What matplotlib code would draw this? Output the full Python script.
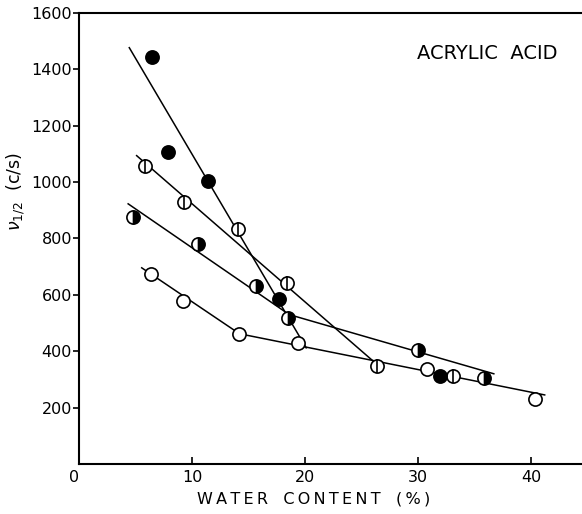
import matplotlib
matplotlib.use("Agg")
import matplotlib.pyplot as plt

# filled circles
filled_x = [6.5, 7.9, 11.4, 17.7, 31.9]
filled_y = [1445, 1108, 1005, 586, 312]
# circles with a vertical bar
barred_x = [5.8, 9.3, 14.1, 18.4, 26.4, 33.1]
barred_y = [1058, 930, 834, 642, 348, 312]
# circles half filled (right half)
half_x = [4.8, 10.5, 15.7, 18.5, 30.0, 35.8]
half_y = [877, 781, 632, 518, 405, 305]
# open circles
open_x = [6.4, 9.2, 14.2, 19.4, 30.8, 40.3]
open_y = [675, 579, 462, 430, 337, 231]

# drawn straight lines (x pairs, y pairs)
fit_lines = [
    ([4.45, 20.1], [1477, 412]),
    ([5.1, 26.4], [1094, 352]),
    ([4.35, 18.6], [923, 530]),
    ([18.6, 36.7], [530, 320]),
    ([5.55, 14.2], [696, 462]),
    ([14.2, 41.2], [462, 245]),
]


def spaced(s):
    # wide letter spacing like the original lettering
    return "\u2009".join(s)


fig = plt.figure(figsize=(5.82, 5.14), dpi=100)
ax = fig.add_axes([0.1357, 0.0973, 0.8643, 0.8774])

for xs, ys in fit_lines:
    ax.plot(xs, ys, "k-", lw=1.1, zorder=2)

ms = 9.5
mew = 1.2
ax.plot(open_x, open_y, "o", ms=ms, mfc="white", mec="black", mew=mew, ls="none", zorder=3)
ax.plot(barred_x, barred_y, "o", ms=ms, mfc="white", mec="black", mew=mew, ls="none", zorder=3)
ax.plot(barred_x, barred_y, "|", ms=ms, mec="black", mew=mew, ls="none", zorder=4)
ax.plot(half_x, half_y, "o", ms=ms, fillstyle="right", mfc="black", mfcalt="white",
        mec="black", mew=mew, ls="none", zorder=3)
ax.plot(filled_x, filled_y, "o", ms=ms, mfc="black", mec="black", mew=mew, ls="none", zorder=3)

ax.set_xlim(0, 44.5)
ax.set_ylim(0, 1600)
ax.set_xticks([0, 10, 20, 30, 40])
ax.set_yticks([200, 400, 600, 800, 1000, 1200, 1400, 1600])
ax.tick_params(axis="y", direction="out", length=4, width=1.2, labelsize=11.5, pad=1)
ax.tick_params(axis="x", direction="in", length=5, width=1.2, labelsize=11.5, pad=4)
ax.get_xticklabels()[0].set_ha("right")
ax.spines["right"].set_visible(False)
for s in ["left", "bottom", "top"]:
    ax.spines[s].set_linewidth(1.5)

ax.set_xlabel(spaced("WATER") + "   " + spaced("CONTENT") + "   " + spaced("(%)"),
              fontsize=11.5)
ax.xaxis.set_label_coords(0.467, -0.062)
ax.set_ylabel(r"$\nu_{1/2}$  (c/s)", fontsize=12.5)
ax.yaxis.set_label_coords(-0.103, 0.603)

ax.text(0.672, 0.911, "ACRYLIC  ACID", transform=ax.transAxes,
        fontsize=14, va="center")

fig.savefig("out.png", dpi=100)
